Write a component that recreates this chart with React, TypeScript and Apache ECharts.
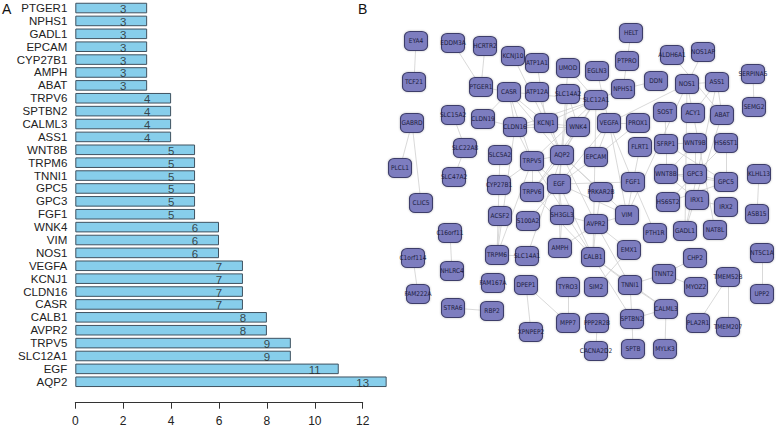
import React, { useEffect, useRef } from "react";
import * as echarts from "echarts";

// ---------- Panel A data ----------
const genes = [
  "PTGER1", "NPHS1", "GADL1", "EPCAM", "CYP27B1", "AMPH", "ABAT",
  "TRPV6", "SPTBN2", "CALML3", "ASS1",
  "WNT8B", "TRPM6", "TNNI1", "GPC5", "GPC3", "FGF1",
  "WNK4", "VIM", "NOS1",
  "VEGFA", "KCNJ1", "CLDN16", "CASR",
  "CALB1", "AVPR2", "TRPV5", "SLC12A1", "EGF", "AQP2",
];
const degrees = [
  3, 3, 3, 3, 3, 3, 3,
  4, 4, 4, 4,
  5, 5, 5, 5, 5, 5,
  6, 6, 6,
  7, 7, 7, 7,
  8, 8, 9, 9, 11, 13,
];
const xTickMin = 0;
const xTickMax = 12;
const xTickStep = 2;

// ---------- Panel B data ----------
const nodeNames = [
  "EYA4", "EDDM3A", "HCRTR2", "KCNJ10", "ATP1A1", "UMOD", "EGLN3", "HELT", "PTPRO",
  "ALDH6A1", "NOS1AP", "SERPINA5", "SEMG2", "DDN", "NOS1", "ASS1", "NPHS1",
  "TCF21", "PTGER1", "CASR", "ATP12A", "SLC14A2", "SLC12A1",
  "GABRD", "SLC15A2", "CLDN19", "CLDN16", "KCNJ1", "WNK4", "VEGFA", "PROX1",
  "SOST", "ACY1", "ABAT", "SLC22A8", "SLC5A2", "TRPV5", "AQP2", "EPCAM", "FLRT1",
  "SFRP1", "WNT9B", "HS6ST1", "PLCL1", "SLC47A2", "CYP27B1", "TRPV6", "EGF",
  "PRKAR2B", "FGF1", "WNT8B", "GPC3", "GPC5", "KLHL13", "CLIC5", "HS6ST2", "IRX1",
  "IRX2", "ASB15", "ACSF2", "S100A2", "SH3GL3", "AVPR2", "VIM", "PTH1R", "GADL1",
  "NAT8L", "C16orf11", "AMPH", "TRPM6", "SLC14A1", "CALB1", "EMX1", "C1orf114",
  "NHLRC4", "FAM167A", "DPEP1", "TYRO3", "SIM2", "TNNI1", "TNNT2", "CHP2", "MYOZ2",
  "TMEM52B", "NT5C1A", "UPP2", "FAM222A", "STRA6", "RBP2", "MPP7", "PPP2R2B",
  "SPTBN2", "CALML3", "PLA2R1", "TMEM207", "XPNPEP2", "CACNA2D2", "SPTB", "MYLK3",
];
const nodeX = [
  416, 453, 485, 513, 537, 568, 597, 631, 627,
  672, 703, 753, 754, 656, 687, 717, 623,
  414, 481, 509, 537, 568, 596,
  412, 453, 483, 515, 546, 578, 609, 638,
  665, 693, 722, 465, 500, 532, 562, 596, 640,
  666, 695, 726, 400, 454, 499, 532, 559,
  601, 633, 666, 695, 726, 759, 421, 668, 697,
  726, 757, 500, 528, 562, 596, 627, 655, 685,
  715, 450, 560, 497, 527, 593, 629, 413,
  452, 493, 526, 568, 596, 630, 664, 695, 696,
  728, 762, 762, 418, 453, 492, 568, 597,
  632, 666, 698, 728, 531, 596, 633, 665,
];
const nodeY = [
  41, 43, 46, 56, 63, 68, 71, 33, 61,
  55, 52, 74, 107, 81, 84, 82, 89,
  82, 87, 92, 92, 94, 100,
  123, 115, 119, 127, 123, 127, 123, 123,
  112, 113, 115, 148, 155, 161, 155, 157, 147,
  144, 143, 143, 168, 177, 185, 192, 184,
  192, 182, 174, 174, 182, 174, 203, 202, 200,
  207, 214, 216, 221, 215, 224, 215, 233, 231,
  230, 233, 248, 255, 256, 257, 250, 258,
  271, 283, 285, 287, 287, 285, 274, 258, 287,
  277, 253, 294, 294, 308, 311, 323, 323,
  319, 309, 323, 327, 332, 351, 349, 349,
];
const edges: [string, string][] = [
  ["EYA4", "TCF21"], ["EDDM3A", "PTGER1"], ["HCRTR2", "PTGER1"], ["PTGER1", "CASR"],
  ["KCNJ10", "KCNJ1"], ["ATP1A1", "KCNJ1"], ["ATP12A", "AQP2"], ["UMOD", "SLC12A1"], ["UMOD", "EGF"],
  ["EGLN3", "VEGFA"], ["HELT", "PTPRO"], ["PTPRO", "NPHS1"], ["NPHS1", "DDN"], ["NPHS1", "SLC12A1"],
  ["ALDH6A1", "ABAT"], ["NOS1AP", "NOS1"], ["NOS1", "ASS1"], ["NOS1", "VEGFA"], ["NOS1", "GADL1"],
  ["NOS1", "ACY1"], ["NOS1", "VIM"], ["ASS1", "ABAT"], ["ASS1", "ACY1"], ["ASS1", "GADL1"], ["ABAT", "GADL1"],
  ["SERPINA5", "SEMG2"], ["GABRD", "CLIC5"], ["GABRD", "PLCL1"], ["SLC15A2", "SLC22A8"], ["SLC22A8", "SLC47A2"],
  ["CASR", "SLC12A1"], ["CASR", "AQP2"], ["CASR", "TRPV5"], ["CASR", "CLDN16"], ["CASR", "KCNJ1"], ["CASR", "CLDN19"],
  ["CLDN19", "CLDN16"], ["CLDN16", "SLC12A1"], ["CLDN16", "TRPV5"], ["CLDN16", "KCNJ1"], ["CLDN16", "TRPM6"], ["CLDN16", "WNK4"],
  ["KCNJ1", "AQP2"], ["KCNJ1", "SLC12A1"], ["KCNJ1", "WNK4"],
  ["WNK4", "AQP2"], ["WNK4", "SLC12A1"], ["WNK4", "SLC14A2"], ["WNK4", "TRPV6"],
  ["SLC14A2", "AQP2"], ["SLC12A1", "AQP2"], ["SLC12A1", "TRPV5"], ["SLC12A1", "CALB1"],
  ["AQP2", "TRPV5"], ["AQP2", "EGF"], ["AQP2", "AVPR2"], ["AQP2", "VIM"], ["AQP2", "PRKAR2B"], ["AQP2", "SLC14A1"], ["AQP2", "TRPV6"],
  ["EGF", "TRPV5"], ["EGF", "VEGFA"], ["EGF", "FGF1"], ["EGF", "EPCAM"], ["EGF", "VIM"], ["EGF", "SH3GL3"],
  ["EGF", "CALB1"], ["EGF", "S100A2"], ["EGF", "AMPH"],
  ["TRPV5", "CALB1"], ["TRPV5", "TRPV6"], ["TRPV5", "CYP27B1"], ["TRPV5", "TRPM6"],
  ["AVPR2", "CALB1"], ["AVPR2", "VIM"], ["AVPR2", "PRKAR2B"], ["AVPR2", "SH3GL3"], ["AVPR2", "AMPH"], ["AVPR2", "TNNI1"], ["AVPR2", "EMX1"],
  ["CALB1", "TRPV6"], ["CALB1", "CALML3"], ["CALB1", "TNNI1"], ["CALB1", "SPTBN2"],
  ["VEGFA", "FGF1"], ["VEGFA", "VIM"], ["VEGFA", "PROX1"], ["VEGFA", "EPCAM"], ["EPCAM", "PROX1"],
  ["VIM", "FGF1"], ["FGF1", "FLRT1"], ["FGF1", "PTH1R"],
  ["CYP27B1", "TRPM6"], ["CYP27B1", "SLC5A2"], ["TRPM6", "SLC14A1"], ["TRPM6", "ACSF2"], ["SH3GL3", "AMPH"],
  ["TNNI1", "TNNT2"], ["TNNI1", "SPTBN2"], ["TNNI1", "CALML3"], ["CALML3", "SPTBN2"], ["CALML3", "MYLK3"], ["SPTBN2", "SPTB"],
  ["TNNT2", "MYOZ2"], ["TNNT2", "CHP2"], ["SIM2", "EMX1"],
  ["SOST", "SFRP1"], ["SFRP1", "WNT8B"], ["SFRP1", "WNT9B"], ["SFRP1", "GPC5"], ["WNT8B", "WNT9B"], ["WNT8B", "GPC3"],
  ["WNT8B", "GPC5"], ["WNT8B", "IRX1"], ["GPC3", "GPC5"], ["GPC3", "HS6ST1"], ["GPC3", "HS6ST2"], ["GPC3", "WNT9B"],
  ["GPC5", "HS6ST1"], ["GPC5", "HS6ST2"], ["IRX1", "IRX2"], ["NAT8L", "ACY1"],
  ["KLHL13", "ASB15"], ["NT5C1A", "UPP2"], ["C16orf11", "NHLRC4"], ["C1orf114", "FAM222A"], ["STRA6", "RBP2"],
  ["DPEP1", "XPNPEP2"], ["DPEP1", "MPP7"], ["TYRO3", "MPP7"], ["PPP2R2B", "CACNA2D2"],
  ["TMEM52B", "TMEM207"], ["TMEM52B", "PLA2R1"],
];

export default function App() {
  const ref = useRef<HTMLDivElement>(null);

  useEffect(() => {
    if (!ref.current) return;
    const chart = echarts.init(ref.current, undefined, { renderer: "svg" });
    const sans = '"Liberation Sans", Arial, Helvetica, sans-serif';
    const narrow = '"Liberation Sans Narrow", "DejaVu Sans Condensed", "Liberation Sans", sans-serif';
    const unit = 23.95;

    chart.setOption({
      animation: false,
      backgroundColor: "#ffffff",
      textStyle: { fontFamily: sans },
      graphic: [
        { type: "text", left: 2, top: 2, style: { text: "A", fontSize: 14, fontFamily: sans, fill: "#111" } },
        { type: "text", left: 358, top: 2, style: { text: "B", fontSize: 14, fontFamily: sans, fill: "#111" } },
      ],
      grid: [
        { left: 75.3, top: 1.6, width: unit * 13, height: 386.6 },
        { left: 75.3, top: 401.7, width: unit * 12, height: 1 },
        { left: 390, top: 20, width: 388, height: 350 },
      ],
      xAxis: [
        { gridIndex: 0, type: "value", min: 0, max: 13, show: false },
        {
          gridIndex: 1, type: "value", min: xTickMin, max: xTickMax, interval: xTickStep,
          position: "bottom",
          axisLine: { show: true, lineStyle: { color: "#333", width: 1 } },
          axisTick: { show: true, length: 6, lineStyle: { color: "#333" } },
          axisLabel: { fontSize: 12, color: "#222", margin: 12, fontFamily: sans },
          splitLine: { show: false },
        },
        { gridIndex: 2, type: "value", min: 390, max: 778, show: false },
      ],
      yAxis: [
        {
          gridIndex: 0, type: "category", data: genes, inverse: true,
          axisLine: { show: false }, axisTick: { show: false },
          axisLabel: { interval: 0, fontSize: 11.5, color: "#222", margin: 8, fontFamily: sans },
        },
        { gridIndex: 1, type: "value", show: false },
        { gridIndex: 2, type: "value", min: 20, max: 370, inverse: true, show: false },
      ],
      series: [
        {
          type: "bar",
          xAxisIndex: 0, yAxisIndex: 0,
          data: degrees,
          barCategoryGap: "18%",
          itemStyle: { color: "#87CEEB", borderColor: "#3f5260", borderWidth: 1 },
          silent: true,
        },
        {
          type: "scatter",
          xAxisIndex: 0, yAxisIndex: 0,
          symbolSize: 0,
          data: degrees.map((v, i) => [v - 1, genes[i], v]),
          label: {
            show: true, position: "inside", offset: [0, 1],
            formatter: (p: any) => String(p.value[2]),
            fontSize: 11.5, color: "#222", fontFamily: sans,
          },
          silent: true,
        },
        {
          type: "graph",
          layout: "none",
          coordinateSystem: "cartesian2d",
          xAxisIndex: 2, yAxisIndex: 2,
          symbol: "roundRect",
          symbolSize: [23, 19],
          data: nodeNames.map((n, i) => ({ name: n, value: [nodeX[i], nodeY[i]] })),
          links: edges.map(([s, t]) => ({ source: s, target: t })),
          itemStyle: {
            color: "#7d7dbf", borderColor: "#3d3d6a", borderWidth: 1,
            shadowBlur: 2, shadowColor: "rgba(0,0,0,0.25)",
          },
          lineStyle: { color: "#cfcfcf", width: 0.8, opacity: 1, curveness: 0 },
          label: {
            show: true, position: "inside", fontSize: 6.5, color: "#1c1c40",
            fontFamily: narrow,
          },
          emphasis: { disabled: true },
          silent: true,
        },
      ],
    });

    return () => chart.dispose();
  }, []);

  return (
    <div
      ref={ref}
      style={{ position: "fixed", left: 0, top: 0, width: 778, height: 429, background: "#fff" }}
    />
  );
}
